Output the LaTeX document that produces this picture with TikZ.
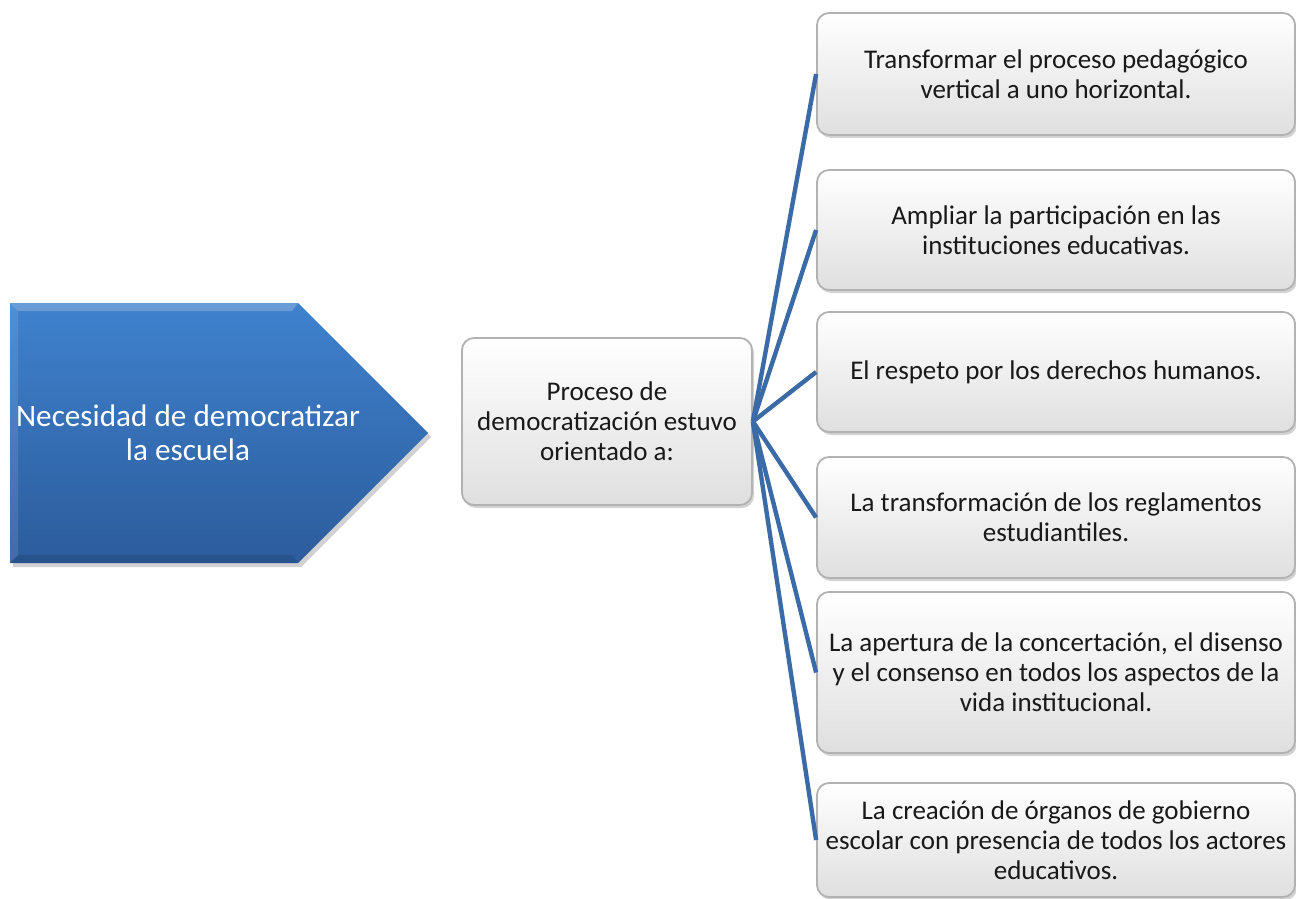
\documentclass[tikz,border=0pt]{standalone}
\usepackage{fontspec}
\setmainfont{Carlito}
\usetikzlibrary{shadows}
\definecolor{conncol}{HTML}{3A6BA6}
\definecolor{bluetop}{HTML}{3F82CE}
\definecolor{bluebot}{HTML}{2C5C9C}
\begin{document}
\begin{tikzpicture}[x=0.5pt,y=-0.5pt,
  greybox/.style={draw=gray!60, line width=0.9pt, rounded corners=6pt,
    top color=white, bottom color=gray!25,
    drop shadow={shadow xshift=1pt,shadow yshift=-1.5pt,opacity=0.35},
    align=center, font=\fontsize{13.5}{15}\selectfont, text=black!90, inner sep=2pt},
  conn/.style={draw=conncol, line width=2.2pt}]
\useasboundingbox (0,0) rectangle (1296,899);
% pentagon arrow
\fill[black, opacity=0.18] (13,307) -- (301,307) -- (431,437) -- (301,567) -- (13,567) -- cycle;
\shade[top color=bluetop, bottom color=bluebot] (10,303) -- (298,303) -- (428,433) -- (298,563) -- (10,563) -- cycle;
\fill[white, opacity=0.22] (10,303) -- (298,303) -- (292,311) -- (18,311) -- cycle;
\fill[white, opacity=0.10] (10,303) -- (18,311) -- (18,555) -- (10,563) -- cycle;
\fill[black, opacity=0.10] (10,563) -- (18,555) -- (292,555) -- (298,563) -- cycle;
\node[font=\fontsize{15.6}{16.8}\selectfont, text=white, align=center] (need) at (188,433) {Necesidad de democratizar\\la escuela};
% middle box
\node[greybox, minimum width=145pt, minimum height=83.5pt] (mid) at (607,421.5) {Proceso de\\democratización estuvo\\orientado a:};
% right boxes
\node[greybox, minimum width=239pt, minimum height=61pt] (b1) at (1056,74) {Transformar el proceso pedagógico\\vertical a uno horizontal.};
\node[greybox, minimum width=239pt, minimum height=60pt] (b2) at (1056,230) {Ampliar la participación en las\\instituciones educativas.};
\node[greybox, minimum width=239pt, minimum height=60pt] (b3) at (1056,372) {El respeto por los derechos humanos.};
\node[greybox, minimum width=239pt, minimum height=60.5pt] (b4) at (1056,517.5) {La transformación de los reglamentos\\estudiantiles.};
\node[greybox, minimum width=239pt, minimum height=80.5pt] (b5) at (1056,672.5) {La apertura de la concertación, el disenso\\y el consenso en todos los aspectos de la\\vida institucional.};
\node[greybox, minimum width=239pt, minimum height=57pt] (b6) at (1056,840) {La creación de órganos de gobierno\\escolar con presencia de todos los actores\\educativos.};
% connectors
\foreach \b in {b1,b2,b3,b4,b5,b6}
  \draw[conn] (mid.east) -- (\b.west);
\end{tikzpicture}
\end{document}
